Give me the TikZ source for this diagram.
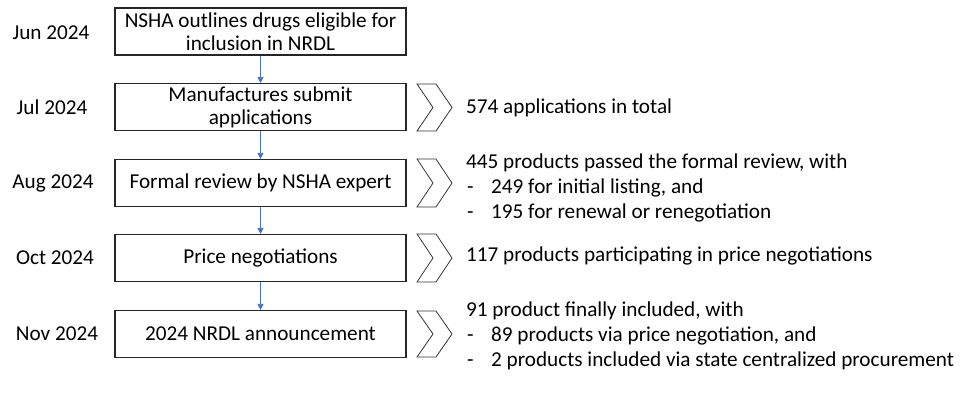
\documentclass[tikz,border=0pt]{standalone}
\usepackage{fontspec}
\setmainfont{Carlito}
\usetikzlibrary{arrows.meta}
\definecolor{arrowblue}{HTML}{4472C4}
\begin{document}
\begin{tikzpicture}[x=1pt,y=-1pt,
  stepbox/.style={draw=black!85,line width=1.1pt,minimum width=291pt,minimum height=47pt,inner sep=0pt,align=center,font=\fontsize{21.2}{23}\selectfont},
  datelbl/.style={inner sep=0pt,font=\fontsize{21.2}{23}\selectfont},
  info/.style={anchor=west,inner sep=0pt,align=left,font=\fontsize{21.2}{25}\selectfont},
  flow/.style={draw=arrowblue,line width=0.7pt,-{Triangle[length=6pt,width=6pt]}},
  chev/.style={draw=black!80,line width=0.8pt}]
\useasboundingbox (0,0) rectangle (966,401);
\newcommand{\dsh}{\makebox[25pt][l]{\hspace{1pt}-}}
% boxes
\node[stepbox] (b1) at (260.5,31.5) {NSHA outlines drugs eligible for\\inclusion in NRDL};
\node[stepbox] (b2) at (260.5,107) {Manufactures submit\\applications};
\node[stepbox] (b3) at (260.5,183) {Formal review by NSHA expert};
\node[stepbox] (b4) at (260.5,258) {Price negotiations};
\node[stepbox] (b5) at (260.5,334) {2024 NRDL announcement};
% dates
\node[datelbl] (d1) at (51,33) {Jun 2024};
\node[datelbl] (d2) at (52,107) {Jul 2024};
\node[datelbl] (d3) at (53,183) {Aug 2024};
\node[datelbl] (d4) at (55,258) {Oct 2024};
\node[datelbl] (d5) at (57,334) {Nov 2024};
% arrows
\draw[flow] (b1) -- (b2);
\draw[flow] (b2) -- (b3);
\draw[flow] (b3) -- (b4);
\draw[flow] (b4) -- (b5);
% chevrons
\foreach \t/\b in {84/131,159/207,234/282,311/357}{
  \draw[chev] (417,\t) -- (436,\t) -- (452,{(\t+\b)/2}) -- (436,\b) -- (417,\b) -- (433,{(\t+\b)/2}) -- cycle;
}
% info texts
\node[info] (i2) at (466,108) {574 applications in total};
\node[info] (i3) at (466,188) {445 products passed the formal review, with\\\dsh249 for initial listing, and\\\dsh195 for renewal or renegotiation};
\node[info] (i4) at (466,256) {117 products participating in price negotiations};
\node[info] (i5) at (466,336) {91 product finally included, with\\\dsh89 products via price negotiation, and\\\dsh2 products included via state centralized procurement};
\end{tikzpicture}
\end{document}
